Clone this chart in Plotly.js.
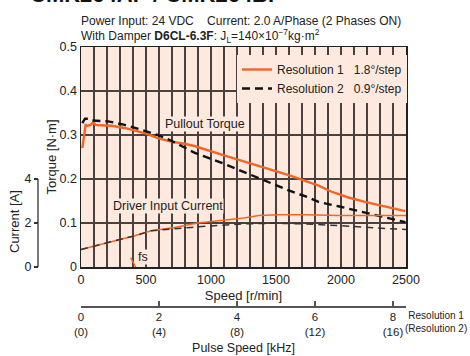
<!DOCTYPE html>
<html>
<head>
<meta charset="utf-8">
<script src="https://cdn.plot.ly/plotly-3.0.1.min.js"></script>
<style>html,body{margin:0;padding:0;background:#fff}#chart{width:470px;height:356px}</style>
</head>
<body>
<div id="chart"></div>
<script>
// ---- data ----
const speedPulloutR1 = [10, 23, 36, 51, 74, 94, 112, 145, 235, 336, 413, 502, 591, 694, 795, 872, 1088, 1343, 1598, 1751, 1827, 1929, 2057, 2184, 2337, 2495];
const torquePulloutR1 = [0.270, 0.300, 0.323, 0.321, 0.323, 0.329, 0.323, 0.322, 0.321, 0.316, 0.310, 0.303, 0.293, 0.285, 0.280, 0.275, 0.255, 0.232, 0.209, 0.193, 0.185, 0.171, 0.158, 0.148, 0.138, 0.127];
const speedPulloutR2 = [10, 31, 56, 82, 209, 336, 464, 591, 694, 795, 872, 1088, 1343, 1598, 1751, 1827, 1980, 2133, 2286, 2495];
const torquePulloutR2 = [0.327, 0.337, 0.337, 0.333, 0.331, 0.323, 0.312, 0.300, 0.287, 0.272, 0.260, 0.236, 0.205, 0.174, 0.158, 0.148, 0.138, 0.127, 0.117, 0.102];
const speedCurrentR1 = [0, 209, 413, 540, 617, 719, 897, 1076, 1254, 1368, 1521, 1725, 1980, 2500];
const currentR1 = [0.80, 1.11, 1.42, 1.65, 1.70, 1.80, 2.00, 2.11, 2.23, 2.34, 2.38, 2.38, 2.34, 2.34];
const speedCurrentR2 = [0, 209, 413, 540, 667, 846, 1024, 1254, 1470, 1725, 1980, 2235, 2500];
const currentR2 = [0.80, 1.11, 1.42, 1.65, 1.70, 1.80, 1.88, 1.96, 1.99, 1.96, 1.88, 1.80, 1.70];
const fsSpeed = [382, 420];
const fsTorque = [0.021, 0];
const speedTicks = [0, 500, 1000, 1500, 2000, 2500];
const torqueTicks = [0, 0.1, 0.2, 0.3, 0.4, 0.5];
const torqueTickText = ['0', '0.1', '0.2', '0.3', '0.4', '0.5'];
const currentTicks = [0, 2, 4];
const pulseTicks = [0, 2, 4, 6, 8];
const pulseTickText = ['0<br>(0)', '2<br>(4)', '4<br>(8)', '6<br>(12)', '8<br>(16)'];
const legendNames = ['Resolution 1\u00a0\u00a0\u00a01.8\u00b0/step', 'Resolution 2\u00a0\u00a0\u00a00.9\u00b0/step'];

// ---- styles ----
const FONT = '"Liberation Sans Narrow", "Arial Narrow", "Liberation Sans", Arial, sans-serif';
const ORANGE = '#F26526';
const BG = '#FDE9DE';
const GRID = '#4a4040';

const W = 470, H = 356;
const px = v => v / W, py = v => 1 - v / H;

const traces = [
  {x: speedCurrentR1, y: currentR1, yaxis: 'y2', mode: 'lines', line: {color: ORANGE, width: 1.5}, showlegend: false, hoverinfo: 'skip'},
  {x: speedCurrentR2, y: currentR2, yaxis: 'y2', mode: 'lines', line: {color: '#333', width: 1.5, dash: '7px,5px'}, showlegend: false, hoverinfo: 'skip'},
  {x: speedPulloutR1, y: torquePulloutR1, mode: 'lines', name: legendNames[0], line: {color: ORANGE, width: 2.4}},
  {x: speedPulloutR2, y: torquePulloutR2, mode: 'lines', name: legendNames[1], line: {color: '#111', width: 2.4, dash: '8px,5px'}},
  {x: fsSpeed, y: fsTorque, mode: 'lines', line: {color: ORANGE, width: 1.5}, showlegend: false, hoverinfo: 'skip'},
  {x: [0, 8], y: [null, null], xaxis: 'x2', mode: 'lines', showlegend: false, hoverinfo: 'skip'}
];

const layout = {
  width: W, height: H,
  margin: {l: 0, r: 0, t: 0, b: 0},
  paper_bgcolor: '#ffffff',
  plot_bgcolor: BG,
  font: {family: FONT, size: 12, color: '#222'},
  showlegend: true,
  legend: {x: px(407), xanchor: 'right', y: py(55), yanchor: 'top', bgcolor: BG, borderwidth: 0,
           font: {family: FONT, size: 12, color: '#222'}, tracegroupgap: 0, itemwidth: 30},
  xaxis: {domain: [px(81), px(406)], range: [0, 2500], tickvals: speedTicks, ticks: '', showline: true, mirror: true,
          linecolor: '#222', linewidth: 1.5, showgrid: true, gridcolor: GRID, gridwidth: 1.5, zeroline: false,
          minor: {dtick: 100, tick0: 0, showgrid: true, gridcolor: GRID, gridwidth: 1.5, ticks: ''},
          tickfont: {size: 12.5}, title: {text: 'Speed [r/min]', font: {size: 13}, standoff: 5}},
  yaxis: {domain: [89 / H, 309 / H], range: [0, 0.5], tickvals: torqueTicks, ticktext: torqueTickText,
          ticks: '', showline: true, mirror: true, linecolor: '#222', linewidth: 1.5, showgrid: true, gridcolor: GRID,
          gridwidth: 1.5, zeroline: false, tickfont: {size: 12.5}, title: {text: 'Torque [N\u00b7m]', font: {size: 13}, standoff: 0}},
  yaxis2: {overlaying: 'y', anchor: 'free', position: px(38), side: 'left', range: [0, 10], tickvals: currentTicks,
           ticks: 'outside', ticklen: 4, tickcolor: '#333', tickwidth: 1.3, showline: false, showgrid: false, zeroline: false,
           tickfont: {size: 12.5}},
  xaxis2: {overlaying: 'x', anchor: 'free', position: (H - 306) / H, side: 'bottom', range: [0, 2500 / 300],
           tickvals: pulseTicks, ticktext: pulseTickText, ticks: 'inside', ticklen: 5, tickcolor: '#555', tickwidth: 1.3,
           showline: true, linecolor: '#555', linewidth: 1.5, showgrid: false, zeroline: false,
           tickfont: {size: 11.5}, title: {text: 'Pulse Speed [kHz]', font: {size: 12.5}, standoff: 6}},
  shapes: [
    {type: 'line', xref: 'paper', yref: 'y2', x0: px(38), x1: px(38), y0: 0, y1: 4, line: {color: '#333', width: 1.3}}
  ],
  annotations: [
    {xref: 'paper', yref: 'paper', x: px(28), y: py(9), xanchor: 'left', yanchor: 'bottom', showarrow: false,
     text: '<b>CMK264AP / CMK264BP</b>', font: {family: '"Liberation Sans", Arial, sans-serif', size: 22, color: '#111'}},
    {xref: 'paper', yref: 'paper', x: px(79), y: py(21), xanchor: 'left', yanchor: 'middle', showarrow: false,
     text: 'Power Input: 24 VDC\u00a0\u00a0\u00a0\u00a0Current: 2.0 A/Phase (2 Phases ON)', font: {size: 12}},
    {xref: 'paper', yref: 'paper', x: px(79), y: py(36), xanchor: 'left', yanchor: 'middle', showarrow: false,
     text: 'With Damper <b>D6CL-6.3F</b>: J<sub>L</sub>=140\u00d710<sup>\u22127</sup>kg\u00b7m<sup>2</sup>', font: {size: 12}},
    {xref: 'paper', yref: 'paper', x: px(14), y: py(222), xanchor: 'center', yanchor: 'middle', textangle: -90, showarrow: false,
     text: 'Current [A]', font: {size: 13}},
    {xref: 'x', yref: 'y', x: 956, y: 0.326, showarrow: false, text: 'Pullout Torque', bgcolor: BG, borderpad: 0, font: {size: 12.5}},
    {xref: 'x', yref: 'y', x: 673, y: 0.138, showarrow: false, text: 'Driver Input Current', bgcolor: BG, borderpad: 0, font: {size: 12.5}},
    {xref: 'x', yref: 'y', x: 474, y: 0.022, showarrow: false, text: 'fs', bgcolor: BG, borderpad: 0, font: {size: 12.5}},
    {xref: 'paper', yref: 'paper', x: px(469), y: py(322), xanchor: 'right', yanchor: 'middle', showarrow: false,
     text: 'Resolution 1<br>(Resolution 2)', align: 'center', font: {size: 10}}
  ]
};

Plotly.newPlot('chart', traces, layout, {staticPlot: true, displayModeBar: false});
</script>
</body>
</html>
